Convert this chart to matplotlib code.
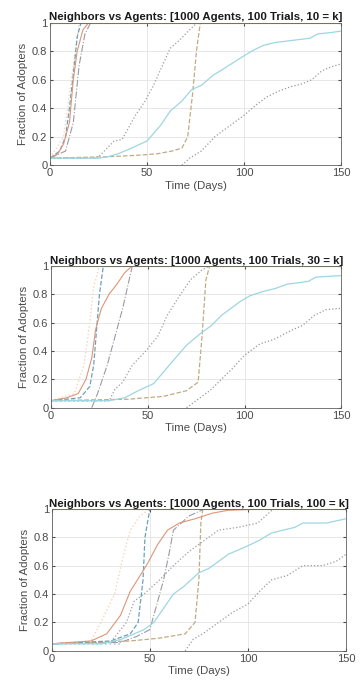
import matplotlib
matplotlib.use("Agg")
import matplotlib.pyplot as plt

plt.rcParams['font.family'] = ['Liberation Sans', 'DejaVu Sans']

k_values = [10, 30, 100]
titles = ["Neighbors vs Agents: [1000 Agents, 100 Trials, %d = k]" % k for k in k_values]
x_ticks = [0, 50, 100, 150]
y_ticks = [0, 0.2, 0.4, 0.6, 0.8, 1]
y_tick_labels = ["0", "0.2", "0.4", "0.6", "0.8", "1"]

# ---- Panel k=10 ----
p1_blue_x = [0, 25, 30, 35, 42, 50, 57, 62, 68, 73, 78, 84, 90, 98, 104, 110, 116, 122, 128, 134, 138, 145, 150]
p1_blue_y = [0.05, 0.05, 0.06, 0.08, 0.12, 0.17, 0.28, 0.38, 0.45, 0.53, 0.56, 0.63, 0.68, 0.75, 0.80, 0.84, 0.86, 0.87, 0.88, 0.89, 0.92, 0.93, 0.94]
p1_late_x = [68, 72, 78, 85, 92, 100, 106, 112, 118, 124, 130, 135, 140, 145, 150]
p1_late_y = [0.0, 0.05, 0.10, 0.20, 0.27, 0.35, 0.42, 0.48, 0.52, 0.55, 0.57, 0.60, 0.66, 0.69, 0.71]
p1_mid_x = [0, 22, 25, 28, 33, 37, 40, 44, 49, 53, 58, 62, 67, 72, 76, 150]
p1_mid_y = [0.05, 0.05, 0.06, 0.10, 0.17, 0.18, 0.25, 0.35, 0.45, 0.55, 0.70, 0.82, 0.88, 0.95, 1.0, 1.0]
p1_olive_x = [0, 30, 45, 55, 63, 68, 71, 73.5, 75.5, 77.5, 150]
p1_olive_y = [0.05, 0.06, 0.07, 0.08, 0.10, 0.12, 0.20, 0.50, 0.80, 1.0, 1.0]
p1_red_x = [0, 4, 7, 10, 12, 14, 17, 20, 150]
p1_red_y = [0.05, 0.08, 0.15, 0.30, 0.60, 0.80, 0.95, 1.0, 1.0]
p1_teal_x = [0, 5, 8, 10, 12.5, 14, 16, 150]
p1_teal_y = [0.05, 0.10, 0.20, 0.40, 0.70, 0.90, 1.0, 1.0]
p1_lorange_x = [0, 7, 11, 15, 150]
p1_lorange_y = [0.05, 0.20, 0.60, 1.0, 1.0]
p1_gray_x = [0, 8, 12, 15, 18, 21, 150]
p1_gray_y = [0.05, 0.10, 0.30, 0.70, 0.92, 1.0, 1.0]
p1_ldot_x = [0, 25]
p1_ldot_y = [0.05, 0.05]

# ---- Panel k=30 ----
p2_blue_x = [0, 30, 38, 45, 53, 58, 63, 70, 77, 83, 88, 93, 98, 103, 110, 116, 122, 128, 133, 137, 150]
p2_blue_y = [0.05, 0.05, 0.07, 0.12, 0.17, 0.25, 0.33, 0.44, 0.52, 0.58, 0.65, 0.70, 0.75, 0.79, 0.82, 0.84, 0.87, 0.88, 0.89, 0.92, 0.93]
p2_late_x = [70, 75, 82, 88, 94, 100, 108, 115, 125, 130, 136, 142, 150]
p2_late_y = [0.0, 0.05, 0.12, 0.20, 0.28, 0.37, 0.45, 0.48, 0.55, 0.58, 0.65, 0.69, 0.70]
p2_mid_x = [0, 30, 33, 37, 42, 49, 55, 60, 66, 72, 78, 82, 150]
p2_mid_y = [0.05, 0.05, 0.13, 0.18, 0.30, 0.40, 0.50, 0.65, 0.78, 0.90, 0.97, 1.0, 1.0]
p2_olive_x = [0, 40, 58, 70, 76, 78, 80, 82, 150]
p2_olive_y = [0.05, 0.06, 0.08, 0.12, 0.18, 0.50, 0.90, 1.0, 1.0]
p2_red_x = [0, 8, 14, 18, 21, 23, 26, 30, 34, 38, 42, 150]
p2_red_y = [0.05, 0.07, 0.10, 0.20, 0.35, 0.55, 0.70, 0.80, 0.87, 0.95, 1.0, 1.0]
p2_teal_x = [0, 15, 20, 22, 23.5, 25, 27, 150]
p2_teal_y = [0.05, 0.07, 0.15, 0.30, 0.55, 0.80, 1.0, 1.0]
p2_lorange_x = [0, 12, 17, 20, 22, 25, 150]
p2_lorange_y = [0.05, 0.10, 0.30, 0.60, 0.85, 1.0, 1.0]
p2_gray_x = [21, 24, 29, 33, 37, 42, 150]
p2_gray_y = [0.0, 0.10, 0.30, 0.50, 0.70, 1.0, 1.0]
p2_ldot_x = [0, 30]
p2_ldot_y = [0.05, 0.05]

# ---- Panel k=100 ----
p3_blue_x = [0, 25, 35, 42, 47, 52, 57, 62, 67, 71, 75, 80, 85, 90, 100, 106, 112, 118, 124, 128, 140, 150]
p3_blue_y = [0.05, 0.05, 0.08, 0.12, 0.15, 0.20, 0.30, 0.40, 0.45, 0.50, 0.55, 0.58, 0.63, 0.68, 0.74, 0.78, 0.83, 0.85, 0.87, 0.90, 0.90, 0.93]
p3_late_x = [68, 72, 78, 85, 92, 100, 106, 112, 120, 128, 138, 145, 150]
p3_late_y = [0.0, 0.08, 0.13, 0.20, 0.27, 0.33, 0.42, 0.50, 0.53, 0.60, 0.60, 0.63, 0.68]
p3_mid_x = [0, 30, 38, 42, 47, 55, 62, 70, 80, 85, 95, 105, 113, 150]
p3_mid_y = [0.05, 0.06, 0.20, 0.35, 0.40, 0.50, 0.60, 0.70, 0.80, 0.85, 0.87, 0.90, 1.0, 1.0]
p3_olive_x = [0, 40, 55, 68, 73, 75, 76, 77, 150]
p3_olive_y = [0.05, 0.07, 0.09, 0.12, 0.20, 0.50, 0.90, 1.0, 1.0]
p3_red_x = [0, 20, 28, 35, 40, 45, 49, 54, 59, 65, 73, 82, 90, 110, 150]
p3_red_y = [0.05, 0.07, 0.12, 0.25, 0.42, 0.53, 0.62, 0.75, 0.85, 0.90, 0.93, 0.97, 0.99, 1.0, 1.0]
p3_teal_x = [0, 30, 40, 44, 46.5, 47.5, 50, 150]
p3_teal_y = [0.05, 0.07, 0.12, 0.20, 0.50, 0.80, 1.0, 1.0]
p3_lorange_x = [0, 20, 25, 32, 37, 40, 45, 50, 150]
p3_lorange_y = [0.05, 0.07, 0.20, 0.40, 0.70, 0.85, 0.95, 1.0, 1.0]
p3_gray_x = [0, 35, 43, 50, 53, 57, 60, 62, 70, 78, 150]
p3_gray_y = [0.05, 0.06, 0.10, 0.15, 0.30, 0.50, 0.70, 0.85, 0.95, 1.0, 1.0]
p3_ldot_x = [0, 35]
p3_ldot_y = [0.05, 0.05]

panels = [
    dict(blue=(p1_blue_x, p1_blue_y), late=(p1_late_x, p1_late_y), mid=(p1_mid_x, p1_mid_y),
         olive=(p1_olive_x, p1_olive_y), red=(p1_red_x, p1_red_y), teal=(p1_teal_x, p1_teal_y),
         lorange=(p1_lorange_x, p1_lorange_y), gray=(p1_gray_x, p1_gray_y), ldot=(p1_ldot_x, p1_ldot_y)),
    dict(blue=(p2_blue_x, p2_blue_y), late=(p2_late_x, p2_late_y), mid=(p2_mid_x, p2_mid_y),
         olive=(p2_olive_x, p2_olive_y), red=(p2_red_x, p2_red_y), teal=(p2_teal_x, p2_teal_y),
         lorange=(p2_lorange_x, p2_lorange_y), gray=(p2_gray_x, p2_gray_y), ldot=(p2_ldot_x, p2_ldot_y)),
    dict(blue=(p3_blue_x, p3_blue_y), late=(p3_late_x, p3_late_y), mid=(p3_mid_x, p3_mid_y),
         olive=(p3_olive_x, p3_olive_y), red=(p3_red_x, p3_red_y), teal=(p3_teal_x, p3_teal_y),
         lorange=(p3_lorange_x, p3_lorange_y), gray=(p3_gray_x, p3_gray_y), ldot=(p3_ldot_x, p3_ldot_y)),
]

styles = {
    'lorange': dict(color='#f4d4bd', ls=':', lw=1.0),
    'ldot': dict(color='#9fd6e6', ls=':', lw=1.2),
    'late': dict(color='#999999', ls=':', lw=0.9),
    'mid': dict(color='#a39aa0', ls=':', lw=0.9),
    'gray': dict(color='#9a9aa4', ls='-.', lw=0.8),
    'olive': dict(color='#c2ab82', ls='--', lw=0.9),
    'teal': dict(color='#6aa2bd', ls='--', lw=0.9),
    'red': dict(color='#dc9677', ls='-', lw=0.8),
    'blue': dict(color='#9dd6e4', ls='-', lw=0.9),
}
order = ['lorange', 'ldot', 'late', 'mid', 'gray', 'olive', 'teal', 'red', 'blue']

fig = plt.figure(figsize=(3.6, 6.83), dpi=100)
positions = [
    [0.139, 0.758, 0.808, 0.209],
    [0.142, 0.403, 0.806, 0.208],
    [0.144, 0.047, 0.817, 0.208],
]

for pos, title, data in zip(positions, titles, panels):
    ax = fig.add_axes(pos)
    for name in order:
        xs, ys = data[name]
        ax.plot(xs, ys, **styles[name])
    ax.axhline(1.0, color='#ece0a0', lw=1.0, zorder=1)
    ax.set_xlim(0, 150)
    ax.set_ylim(0, 1)
    ax.set_xticks(x_ticks)
    ax.set_yticks(y_ticks)
    ax.set_yticklabels(y_tick_labels)
    ax.grid(True, color='#e3e3e3', lw=0.6)
    ax.set_axisbelow(True)
    ax.tick_params(direction='in', length=2, labelsize=8, colors='#4a4a4a', pad=2,
                   top=True, right=True)
    for s in ax.spines.values():
        s.set_color('#606060')
        s.set_linewidth(0.6)
    ax.set_title(title, fontsize=8.2, fontweight='bold', pad=1.5, color='#1a1a1a')
    ax.set_xlabel("Time (Days)", fontsize=8.2, color='#4a4a4a', labelpad=2)
    ax.set_ylabel("Fraction of Adopters", fontsize=8.2, color='#4a4a4a', labelpad=3)

fig.savefig("out.png", dpi=100)
